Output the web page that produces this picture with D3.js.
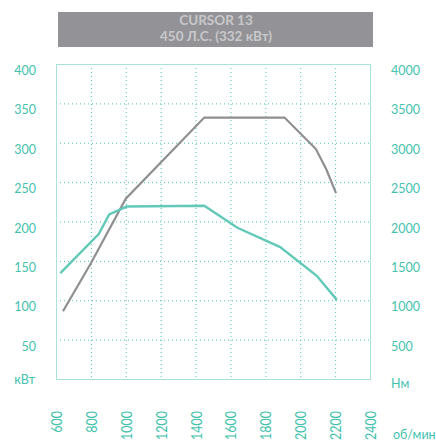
<html>
<head>
<style>
body { margin: 0; padding: 0; background: #fff; }
svg { display: block; }
text { font-family: Lato, "Open Sans", sans-serif; fill: #45c2ae; font-size: 12.5px; }
.title text { fill: #c8c8ca; font-weight: bold; text-anchor: middle; font-size: 13.5px; }
.grid line { stroke: #4cc8b5; stroke-width: 1; stroke-dasharray: 1,3; }
</style>
<script src="https://cdnjs.cloudflare.com/ajax/libs/d3/7.8.5/d3.min.js"></script>
</head>
<body>
<svg width="436" height="442"></svg>
<script>
// rpm ticks, kW ticks, Nm ticks
var rpmTicks = [600, 800, 1000, 1200, 1400, 1600, 1800, 2000, 2200, 2400]
var kwTicks = [50, 100, 150, 200, 250, 300, 350, 400]
var nmTicks = [500, 1000, 1500, 2000, 2500, 3000, 3500, 4000]

// power curve (kW) - grey
var powerRpm = [640, 800, 1000, 1450, 1910, 2090, 2150, 2205]
var powerKw  = [86, 147, 229, 332, 332, 292, 266, 236]

// torque curve (Nm) - teal
var torqueRpm = [625, 845, 905, 1005, 1450, 1640, 1885, 2095, 2210]
var torqueNm  = [1345, 1840, 2090, 2190, 2200, 1920, 1675, 1310, 1005]

var svg = d3.select('svg')

var x = d3.scaleLinear().domain([600, 2400]).range([56, 370])
var yL = d3.scaleLinear().domain([0, 400]).range([379, 64])
var yR = d3.scaleLinear().domain([0, 4000]).range([379, 64])

// title box
var title = svg.append('g').attr('class', 'title')
title.append('rect')
  .attr('x', 58).attr('y', 12)
  .attr('width', 315).attr('height', 35)
  .attr('fill', '#939397')
title.append('text').attr('x', 216).attr('y', 25).text('CURSOR 13')
title.append('text').attr('x', 216).attr('y', 41).text('450 Л.С. (332 кВт)')

// grid
var grid = svg.append('g').attr('class', 'grid')
grid.selectAll('.v')
  .data(rpmTicks.slice(1, -1))
  .join('line').attr('class', 'v')
  .attr('x1', function(d) { return x(d) + 0.5 })
  .attr('x2', function(d) { return x(d) + 0.5 })
  .attr('y1', yL(400)).attr('y2', yL(0))
grid.selectAll('.h')
  .data(kwTicks.slice(0, -1))
  .join('line').attr('class', 'h')
  .attr('x1', x(600)).attr('x2', x(2400))
  .attr('y1', function(d) { return yL(d) + 0.5 })
  .attr('y2', function(d) { return yL(d) + 0.5 })

// frame
svg.append('rect')
  .attr('x', x(600) + 0.5).attr('y', yL(400) + 0.5)
  .attr('width', x(2400) - x(600)).attr('height', yL(0) - yL(400))
  .attr('fill', 'none').attr('stroke', '#a9e2d9')

// curves
var powerLine = d3.line()
  .x(function(d, i) { return x(powerRpm[i]) })
  .y(function(d) { return yL(d) })
svg.append('path')
  .attr('d', powerLine(powerKw))
  .attr('fill', 'none').attr('stroke', '#8f8f92').attr('stroke-width', 2.2)

var torqueLine = d3.line()
  .x(function(d, i) { return x(torqueRpm[i]) })
  .y(function(d) { return yR(d) })
svg.append('path')
  .attr('d', torqueLine(torqueNm))
  .attr('fill', 'none').attr('stroke', '#62c9b9').attr('stroke-width', 2.4)

// left axis labels
svg.append('g').selectAll('text')
  .data(kwTicks)
  .join('text')
  .attr('x', 36).attr('y', function(d) { return yL(d) + 11 })
  .attr('text-anchor', 'end')
  .text(function(d) { return d })
svg.append('text').attr('x', 35).attr('y', 384).attr('text-anchor', 'end').text('кВт')

// right axis labels
svg.append('g').selectAll('text')
  .data(nmTicks)
  .join('text')
  .attr('x', 391).attr('y', function(d) { return yR(d) + 11 })
  .text(function(d) { return d })
svg.append('text').attr('x', 391).attr('y', 388).text('Нм')

// bottom labels, rotated
svg.append('g').selectAll('text')
  .data(rpmTicks)
  .join('text')
  .attr('text-anchor', 'end')
  .attr('transform', function(d) {
    return 'translate(' + (x(d) + 6) + ',411) rotate(-90) scale(1,1.3)'
  })
  .text(function(d) { return d })
svg.append('text').attr('x', 393).attr('y', 439).text('об/мин')
</script>
</body>
</html>
